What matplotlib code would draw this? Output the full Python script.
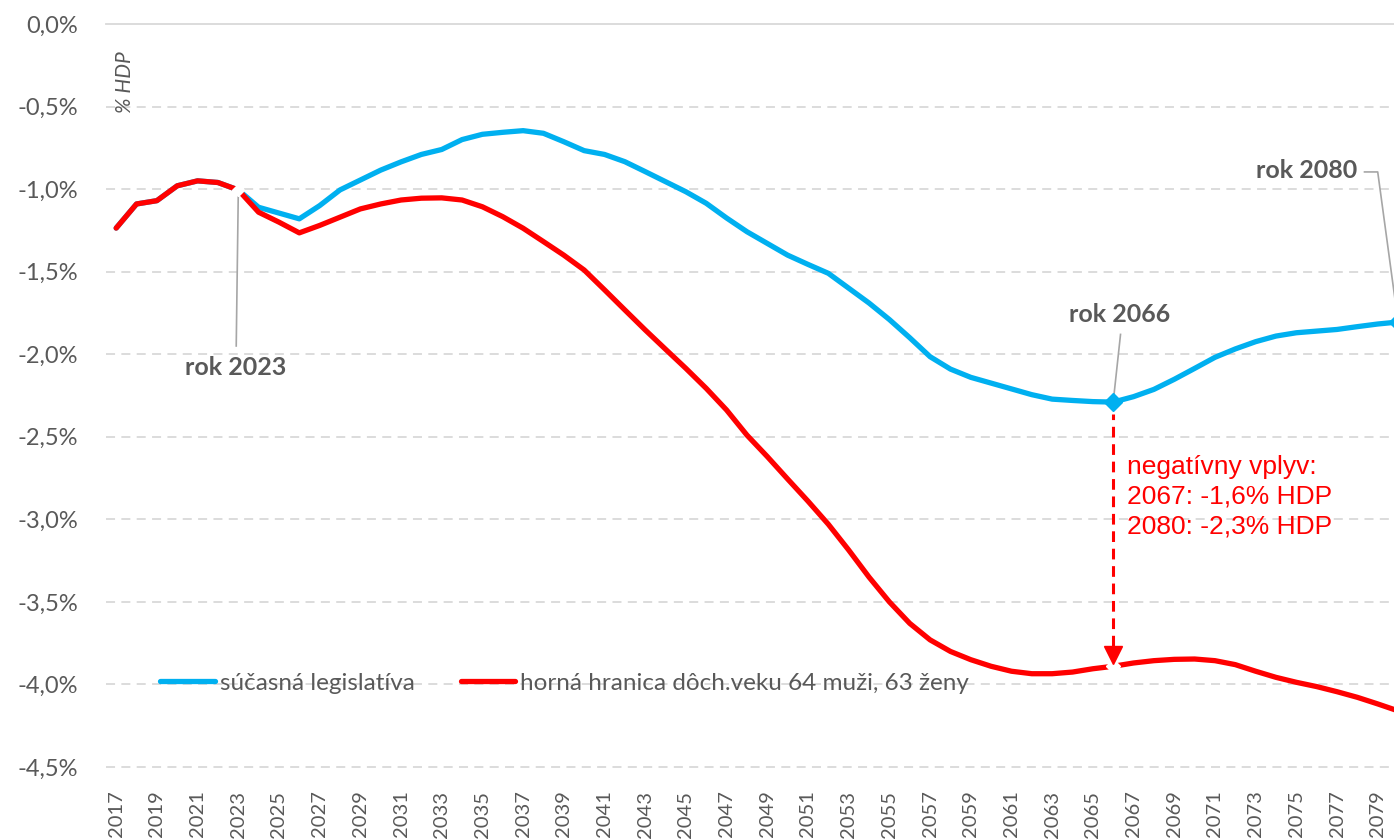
import matplotlib.pyplot as plt
from matplotlib.ticker import FuncFormatter

plt.rcParams['font.family'] = ['Lato', 'DejaVu Sans']

# data (% HDP)
years = list(range(2017, 2081))
baseline = [-1.236, -1.09, -1.07, -0.98, -0.95, -0.96, -1.005,
            -1.11, -1.145, -1.18, -1.10, -1.005, -0.945, -0.885, -0.835, -0.79,
            -0.76, -0.70, -0.668, -0.656, -0.646, -0.662, -0.713, -0.767, -0.79,
            -0.834, -0.894, -0.955, -1.016, -1.086, -1.175, -1.258, -1.329, -1.40,
            -1.456, -1.51, -1.60, -1.69, -1.79, -1.90, -2.015, -2.09, -2.14, -2.175,
            -2.21, -2.245, -2.272, -2.28, -2.287, -2.29, -2.257, -2.213, -2.152,
            -2.086, -2.019, -1.968, -1.924, -1.89, -1.87, -1.86, -1.85, -1.833,
            -1.817, -1.805]
capped = [-1.236, -1.09, -1.07, -0.98, -0.95, -0.96, -1.005,
          -1.14, -1.20, -1.265, -1.22, -1.17, -1.12, -1.09, -1.066, -1.055,
          -1.053, -1.066, -1.107, -1.167, -1.237, -1.318, -1.40, -1.49, -1.61,
          -1.732, -1.853, -1.97, -2.086, -2.207, -2.338, -2.49, -2.62, -2.756,
          -2.89, -3.03, -3.186, -3.35, -3.50, -3.63, -3.73, -3.80, -3.85, -3.89,
          -3.92, -3.935, -3.935, -3.925, -3.905, -3.89, -3.87, -3.856, -3.848,
          -3.846, -3.856, -3.88, -3.92, -3.957, -3.987, -4.013, -4.044, -4.078,
          -4.118, -4.16]
labels = ['súčasná legislatíva', 'horná hranica dôch.veku 64 muži, 63 ženy']
tick_years = list(range(2017, 2080, 2))
y_ticks = [0, -0.5, -1.0, -1.5, -2.0, -2.5, -3.0, -3.5, -4.0, -4.5]

blue = '#00B0F0'
red = '#FF0000'
gray = '#595959'
lead = '#A6A6A6'

fig = plt.figure(figsize=(13.94, 8.39), dpi=100)
ax = fig.add_axes([106 / 1394, 1 - 767 / 839, 1 - 106 / 1394, 743 / 839])

ax.plot(years, baseline, color=blue, lw=3.8, label=labels[0], solid_capstyle='round')
ax.plot(years, capped, color=red, lw=3.8, label=labels[1], solid_capstyle='round')

i23 = years.index(2023)
i66 = years.index(2066)
i80 = years.index(2080)

# markers
ax.plot(years[i23], capped[i23], marker='D', ms=6, color='white', mec='white', zorder=4)
ax.plot(years[i66], capped[i66], marker='D', ms=7, color='white', mec='white', zorder=4)
ax.plot([years[i66], years[i80]], [baseline[i66], baseline[i80]], ls='none',
        marker='D', ms=9, color=blue, zorder=5)

# dashed arrow 2066
ax.vlines(years[i66], capped[i66] + 0.12, baseline[i66] - 0.07, colors=red,
          linestyles=(0, (3.5, 2.2)), lw=2.2, zorder=6)
ax.plot(years[i66], capped[i66] + 0.07, marker='v', ms=13, color=red, mec=red, zorder=6)

ax.text(2066.7, -2.61, 'negatívny vplyv:\n2067: -1,6% HDP\n2080: -2,3% HDP',
        color=red, fontsize=19, family=['Liberation Sans', 'DejaVu Sans'],
        va='top', ha='left', linespacing=1.3)

# labels with leader lines
ax.plot([years[i23], years[i23] - 0.1], [capped[i23] - 0.03, -1.95], color=lead, lw=1.2)
ax.text(2022.85, -2.08, 'rok 2023', color=gray, fontsize=18, fontweight='bold',
        ha='center', va='center')
ax.plot([2066.36, years[i66]], [-1.88, baseline[i66]], color=lead, lw=1.2)
ax.text(2066.3, -1.76, 'rok 2066', color=gray, fontsize=18, fontweight='bold',
        ha='center', va='center')
ax.plot([2078.35, 2079.0, years[i80]], [-0.896, -0.896, baseline[i80]], color=lead, lw=1.2)
ax.text(2078.0, -0.89, 'rok 2080', color=gray, fontsize=18, fontweight='bold',
        ha='right', va='center')

ax.text(2017.45, -0.35, '% HDP', color=gray, fontsize=15, style='italic',
        rotation=90, ha='center', va='center')

ax.set_xlim(2016.5, 2079.8)
ax.set_ylim(-4.5, 0)
ax.set_xticks(tick_years)
ax.set_xticklabels([str(y) for y in tick_years], rotation=90)
ax.set_yticks(y_ticks)
ax.yaxis.set_major_formatter(FuncFormatter(lambda v, p: f'{v:.1f}%'.replace('.', ',')))
ax.tick_params(axis='x', length=0, pad=17, labelsize=14.5, labelcolor=gray)
ax.tick_params(axis='y', length=0, pad=20, labelsize=17, labelcolor=gray)

ax.yaxis.grid(True, color='#D9D9D9', lw=1.3, ls=(0, (5, 3.5)))
for y, gl in zip(ax.get_yticks(), ax.get_ygridlines()):
    if y == 0:
        gl.set_linestyle('-')
    gl.set_clip_on(False)
ax.set_axisbelow(True)
for s in ax.spines.values():
    s.set_visible(False)

ax.legend(loc='center left', bbox_to_anchor=(0.042, 0.113), ncol=2, frameon=False,
          fontsize=17.5, handlelength=2.25, handletextpad=0.2, columnspacing=1.9,
          labelcolor=gray, borderaxespad=0, borderpad=0)

fig.savefig('out.png', dpi=100)
